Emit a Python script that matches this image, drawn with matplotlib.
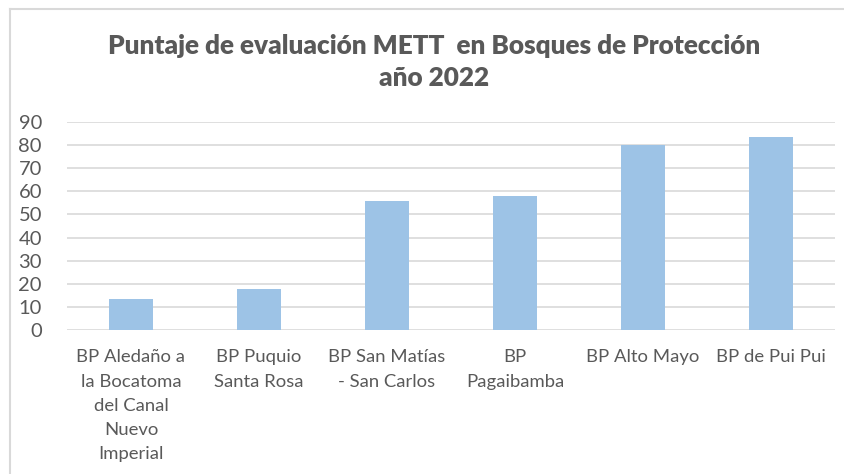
import matplotlib
matplotlib.use("Agg")
import matplotlib.pyplot as plt
from matplotlib.lines import Line2D

# data
categories = ["BP Aledaño a\nla Bocatoma\ndel Canal\nNuevo\nImperial",
              "BP Puquio\nSanta Rosa",
              "BP San Matías\n- San Carlos",
              "BP\nPagaibamba",
              "BP Alto Mayo",
              "BP de Pui Pui"]
scores = [13.4, 17.6, 55.7, 58.1, 80.0, 83.4]
y_ticks = [0, 10, 20, 30, 40, 50, 60, 70, 80, 90]

plt.rcParams['font.family'] = ['Lato', 'DejaVu Sans']
text_color = '#595959'
grid_color = '#d9d9d9'

fig = plt.figure(figsize=(8.45, 4.74), dpi=100)
ax = fig.add_axes([67/845, 1 - 330/474, 768/845, 208/474])

x = list(range(len(categories)))
ax.bar(x, scores, width=0.35, color='#9dc3e6', zorder=3)

ax.set_xlim(-0.5, len(categories) - 0.5)
ax.set_ylim(0, 90)
ax.set_yticks(y_ticks)
ax.set_xticks(x)
ax.set_xticklabels(categories, fontsize=13.3, color=text_color, linespacing=1.62,
                   va='top')
ax.tick_params(axis='y', labelsize=14.5, colors=text_color, length=0, pad=18)
ax.tick_params(axis='x', length=0, pad=14)
ax.yaxis.grid(True, color=grid_color, linewidth=1.2, zorder=0)
for s in ax.spines.values():
    s.set_visible(False)

# title
fig.text(434/845, 1 - 46/474, "Puntaje de evaluación METT  en Bosques de Protección",
         ha='center', va='center', fontsize=18.8, fontweight='heavy', color=text_color)
fig.text(434/845, 1 - 78/474, "año 2022",
         ha='center', va='center', fontsize=18.8, fontweight='heavy', color=text_color)

# chart frame (top and left edges visible)
fig.add_artist(Line2D([10/845, 1], [1 - 9/474, 1 - 9/474], color=grid_color, linewidth=1.5))
fig.add_artist(Line2D([10/845, 10/845], [0, 1 - 9/474], color=grid_color, linewidth=1.5))

fig.savefig("out.png", dpi=100)
